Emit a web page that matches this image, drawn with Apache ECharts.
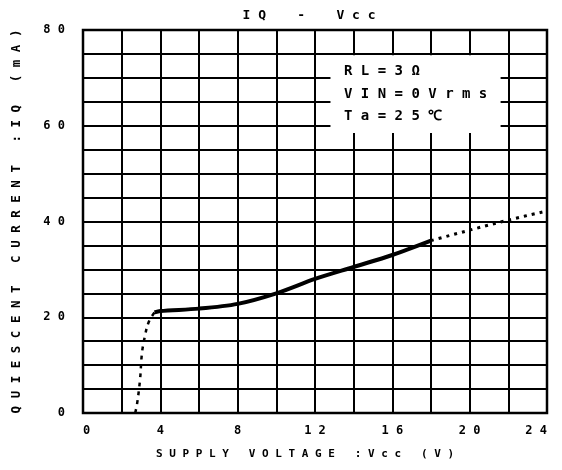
<!DOCTYPE html>
<html>
<head>
<meta charset="utf-8">
<script src="https://cdn.jsdelivr.net/npm/echarts@6/dist/echarts.min.js"></script>
<style>html,body{margin:0;padding:0;background:#fff}#c{width:562px;height:470px}</style>
</head>
<body>
<div id="c"></div>
<script>
// ---- data ----
var titleText = 'I Q    -    V c c';
var xName = 'S U P P L Y   V O L T A G E   : V c c   ( V )';
var yName = 'Q U I E S C E N T   C U R R E N T   : I Q   ( m A )';
var xTickLabels = ['0', '4', '8', '12', '16', '20', '24'];
var yTickLabels = ['0', '20', '40', '60', '80'];
var startupDashed = [[2.7, 0], [2.8, 2], [2.95, 7], [3.05, 12.5], [3.2, 16], [3.4, 19], [3.7, 21]];
var solidCurve = [[3.7, 21], [4, 21.3], [6, 21.8], [8, 22.8], [10, 25], [12, 28], [14, 30.5], [16, 33], [18, 36]];
var tailDashed = [[18, 36], [20, 38.2], [22, 40.3], [24, 42.2]];
var noteLines = ['R L = 3 Ω', 'V I N = 0 V r m s', 'T a = 2 5 ℃'];

var FONT = '"DejaVu Sans Mono", "Liberation Mono", monospace';
function spaced(s) { return s.split('').join(' '); }

var chart = echarts.init(document.getElementById('c'));
var option = {
  animation: false,
  backgroundColor: '#fff',
  title: {
    text: titleText, left: 304, top: 4, textAlign: 'center',
    textStyle: { fontFamily: FONT, fontSize: 13, fontWeight: 'bold', color: '#000' }
  },
  grid: { left: 83, right: 15, top: 30, bottom: 57, show: true, borderColor: '#000', borderWidth: 2.5, backgroundColor: 'transparent' },
  xAxis: {
    type: 'value', min: 0, max: 24, interval: 2,
    name: xName, nameLocation: 'middle', nameGap: 36,
    nameTextStyle: { fontFamily: FONT, fontSize: 11, fontWeight: 'bold', color: '#000', padding: [0, 20, 0, 0] },
    axisLine: { show: false }, axisTick: { show: false },
    axisLabel: {
      margin: 12, fontFamily: FONT, fontSize: 12, fontWeight: 'bold', color: '#000',
      alignMinLabel: 'left', alignMaxLabel: 'right',
      formatter: function (v) { var s = String(v); return xTickLabels.indexOf(s) >= 0 ? spaced(s) : ''; }
    },
    splitLine: { show: true, lineStyle: { color: '#000', width: 2 } }
  },
  yAxis: {
    type: 'value', min: 0, max: 80, interval: 5,
    name: yName, nameLocation: 'middle', nameGap: 60, nameRotate: 90,
    nameTextStyle: { fontFamily: FONT, fontSize: 12.5, fontWeight: 'bold', color: '#000' },
    axisLine: { show: false }, axisTick: { show: false },
    axisLabel: {
      margin: 18, fontFamily: FONT, fontSize: 12, fontWeight: 'bold', color: '#000',
      formatter: function (v) { var s = String(v); return yTickLabels.indexOf(s) >= 0 ? spaced(s) : ''; }
    },
    splitLine: { show: true, lineStyle: { color: '#000', width: 2 } }
  },
  series: [
    {
      type: 'line', data: [], silent: true,
      markArea: {
        silent: true,
        itemStyle: { color: '#fff', borderWidth: 0 },
        data: [[{ coord: [12.08, 74.75] }, { coord: [21.92, 55.25] }]]
      },
      markLine: {
        silent: true, symbol: 'none', label: { show: false },
        lineStyle: { color: '#000', width: 2, type: 'solid' },
        data: [
          [{ coord: [12, 70] }, { coord: [12.8, 70] }],
          [{ coord: [12, 65] }, { coord: [12.8, 65] }],
          [{ coord: [12, 60] }, { coord: [12.8, 60] }],
          [{ coord: [21.6, 70] }, { coord: [22, 70] }],
          [{ coord: [21.6, 65] }, { coord: [22, 65] }],
          [{ coord: [21.6, 60] }, { coord: [22, 60] }],
          [{ coord: [14, 55] }, { coord: [14, 58.5] }],
          [{ coord: [16, 55] }, { coord: [16, 58.5] }],
          [{ coord: [18, 55] }, { coord: [18, 58.5] }],
          [{ coord: [20, 55] }, { coord: [20, 58.5] }]
        ]
      }
    },
    {
      type: 'line', data: startupDashed, smooth: 0.4, symbol: 'none', silent: true,
      lineStyle: { color: '#000', width: 2.5, type: [4, 5] }
    },
    {
      type: 'line', data: solidCurve, smooth: 0.3, symbol: 'none', silent: true,
      lineStyle: { color: '#000', width: 4 }
    },
    {
      type: 'line', data: tailDashed, smooth: 0.3, symbol: 'none', silent: true,
      lineStyle: { color: '#000', width: 3, type: [3, 5] }
    }
  ]
};
chart.setOption(option);

var notePos = [[13.5, 71.4], [13.5, 66.6], [13.5, 62.0]];
var g = noteLines.map(function (t, i) {
  var p = chart.convertToPixel({ gridIndex: 0 }, notePos[i]);
  return {
    type: 'text', x: p[0], y: p[1], z: 100,
    style: { text: t, fontFamily: FONT, fontSize: 14, fontWeight: 'bold', fill: '#000', verticalAlign: 'middle', align: 'left' }
  };
});
chart.setOption({ graphic: g });
</script>
</body>
</html>
